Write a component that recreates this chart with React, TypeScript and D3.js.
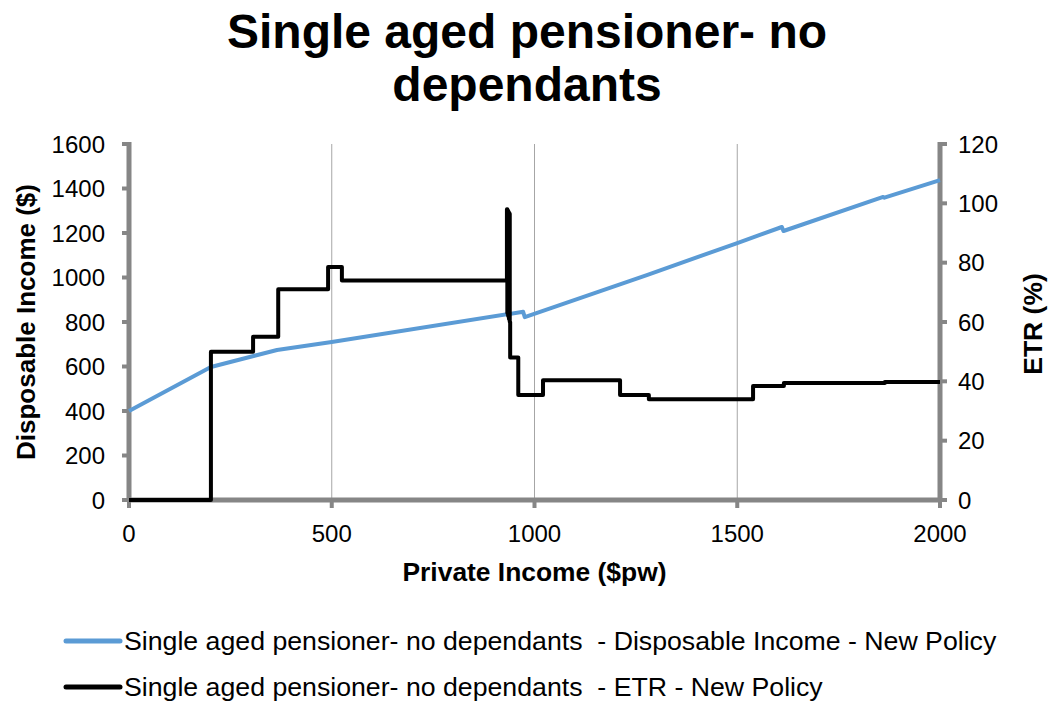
import React, { useEffect, useRef } from 'react';
import * as d3 from 'd3';

// disposable income (left axis, $)
const diIncome = [0, 202, 365, 500, 972, 976, 1277, 1500, 1610, 1614, 1860, 1863, 2000];
const diValues = [400, 598, 674, 710, 846, 822, 1011, 1155, 1227, 1209, 1362, 1359, 1438];

// ETR (right axis, %) - step values, each holds until the next income point
const etrIncome = [0, 202, 306, 368, 491, 525, 932, 933, 934, 935, 936, 937, 938, 939, 940, 960, 1021, 1211, 1282, 1539, 1615, 1864, 2000];
const etrValues = [0, 50, 55, 71, 78.5, 74, 98, 63, 97.5, 62, 97, 61, 96.5, 60, 48, 35.4, 40.4, 35.4, 34, 38.4, 39.4, 39.8, 39.8];

const xTicks = [0, 500, 1000, 1500, 2000];
const yLeftTicks = [0, 200, 400, 600, 800, 1000, 1200, 1400, 1600];
const yRightTicks = [0, 20, 40, 60, 80, 100, 120];

const titleLines = ['Single aged pensioner- no', 'dependants'];
const legendLabels = [
  'Single aged pensioner- no dependants  - Disposable Income - New Policy',
  'Single aged pensioner- no dependants  - ETR - New Policy',
];

const FONT = "'Liberation Sans', Arial, sans-serif";
const AXIS_GREY = '#868686';
const BLUE = '#5b9bd5';

export default function App() {
  const ref = useRef<SVGSVGElement>(null);

  useEffect(() => {
    const svg = d3.select(ref.current);
    svg.selectAll('*').remove();

    const left = 129, right = 940, top = 144, bottom = 500;

    const x = d3.scaleLinear().domain([0, 2000]).range([left, right]);
    const yL = d3.scaleLinear().domain([0, 1600]).range([bottom, top]);
    const yR = d3.scaleLinear().domain([0, 120]).range([bottom, top]);

    // title
    svg.append('g')
      .selectAll('text')
      .data(titleLines)
      .enter()
      .append('text')
      .attr('x', 527)
      .attr('y', (d, i) => 48 + i * 53)
      .attr('text-anchor', 'middle')
      .attr('font-family', FONT)
      .attr('font-weight', 'bold')
      .attr('font-size', 48)
      .text(d => d);

    // vertical gridlines
    svg.append('g')
      .selectAll('line')
      .data(xTicks.slice(1, -1))
      .enter()
      .append('line')
      .attr('x1', d => x(d)).attr('x2', d => x(d))
      .attr('y1', top).attr('y2', bottom)
      .attr('stroke', '#a6a6a6')
      .attr('stroke-width', 1);

    const axes = svg.append('g');

    // tick marks
    axes.selectAll('.xt').data(xTicks).enter().append('line')
      .attr('x1', d => x(d)).attr('x2', d => x(d))
      .attr('y1', bottom).attr('y2', bottom + 8)
      .attr('stroke', AXIS_GREY).attr('stroke-width', 4);
    axes.selectAll('.ylt').data(yLeftTicks).enter().append('line')
      .attr('x1', left - 7).attr('x2', left)
      .attr('y1', d => yL(d)).attr('y2', d => yL(d))
      .attr('stroke', AXIS_GREY).attr('stroke-width', 4);
    axes.selectAll('.yrt').data(yRightTicks).enter().append('line')
      .attr('x1', right).attr('x2', right + 7)
      .attr('y1', d => yR(d)).attr('y2', d => yR(d))
      .attr('stroke', AXIS_GREY).attr('stroke-width', 4);

    // axis lines
    axes.append('line')
      .attr('x1', left - 2).attr('x2', right + 2).attr('y1', bottom).attr('y2', bottom)
      .attr('stroke', AXIS_GREY).attr('stroke-width', 5);
    axes.append('line')
      .attr('x1', left).attr('x2', left).attr('y1', top - 2).attr('y2', bottom + 2)
      .attr('stroke', AXIS_GREY).attr('stroke-width', 5);
    axes.append('line')
      .attr('x1', right).attr('x2', right).attr('y1', top - 2).attr('y2', bottom + 2)
      .attr('stroke', AXIS_GREY).attr('stroke-width', 5);

    // tick labels
    const fmt = d3.format('d');
    const lab = svg.append('g')
      .attr('font-family', FONT)
      .attr('font-size', 24)
      .attr('fill', '#000');
    lab.selectAll('.xl').data(xTicks).enter().append('text')
      .attr('x', d => x(d)).attr('y', bottom + 42)
      .attr('text-anchor', 'middle')
      .text(d => fmt(d));
    lab.selectAll('.yll').data(yLeftTicks).enter().append('text')
      .attr('x', left - 24).attr('y', d => yL(d) + 8.5)
      .attr('text-anchor', 'end')
      .text(d => fmt(d));
    lab.selectAll('.yrl').data(yRightTicks).enter().append('text')
      .attr('x', right + 18).attr('y', d => yR(d) + 8.5)
      .attr('text-anchor', 'start')
      .text(d => fmt(d));

    // axis titles
    svg.append('text')
      .attr('x', (left + right) / 2)
      .attr('y', 581)
      .attr('text-anchor', 'middle')
      .attr('font-family', FONT)
      .attr('font-weight', 'bold')
      .attr('font-size', 26.4)
      .text('Private Income ($pw)');

    svg.append('text')
      .attr('transform', `translate(35,${(top + bottom) / 2}) rotate(-90)`)
      .attr('text-anchor', 'middle')
      .attr('font-family', FONT)
      .attr('font-weight', 'bold')
      .attr('font-size', 26)
      .text('Disposable Income ($)');

    svg.append('text')
      .attr('transform', `translate(1042,${(top + bottom) / 2 + 2}) rotate(-90)`)
      .attr('text-anchor', 'middle')
      .attr('font-family', FONT)
      .attr('font-weight', 'bold')
      .attr('font-size', 26.5)
      .text('ETR (%)');

    // disposable income line
    const diLine = d3.line<number>()
      .x((d, i) => x(diIncome[i]))
      .y(d => yL(d));
    svg.append('path')
      .attr('d', diLine(diValues))
      .attr('fill', 'none')
      .attr('stroke', BLUE)
      .attr('stroke-width', 4)
      .attr('stroke-linejoin', 'round');

    // ETR step line
    const etrLine = d3.line<number>()
      .x((d, i) => x(etrIncome[i]))
      .y(d => yR(d))
      .curve(d3.curveStepAfter);
    svg.append('path')
      .attr('d', etrLine(etrValues))
      .attr('fill', 'none')
      .attr('stroke', '#000')
      .attr('stroke-width', 4)
      .attr('stroke-linejoin', 'round');

    // legend
    const colors = [BLUE, '#000'];
    const lg = svg.append('g')
      .selectAll('g')
      .data(legendLabels)
      .enter()
      .append('g')
      .attr('transform', (d, i) => `translate(0,${641 + i * 46})`);
    lg.append('line')
      .attr('x1', 66).attr('x2', 120)
      .attr('y1', 0).attr('y2', 0)
      .attr('stroke', (d, i) => colors[i])
      .attr('stroke-width', 5)
      .attr('stroke-linecap', 'round');
    lg.append('text')
      .attr('x', 124)
      .attr('y', 9)
      .attr('font-family', FONT)
      .attr('font-size', 26.7)
      .style('white-space', 'pre')
      .text(d => d);
  }, []);

  return (
    <svg
      ref={ref}
      width={1050}
      height={702}
      style={{ position: 'absolute', left: 0, top: 0, background: '#fff' }}
    />
  );
}
